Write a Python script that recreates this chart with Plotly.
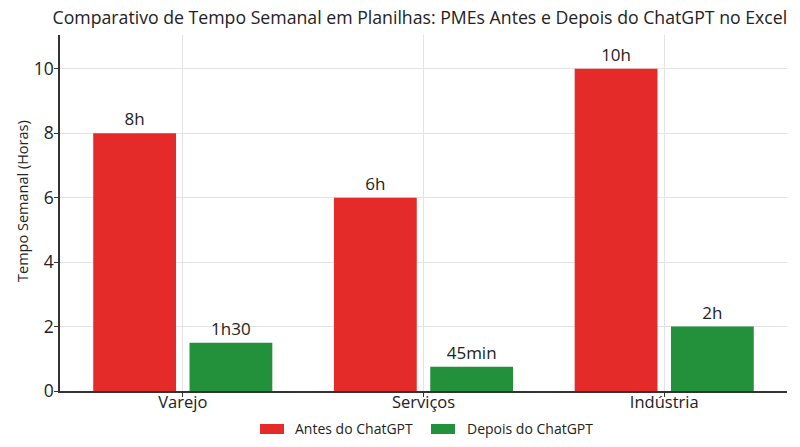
import plotly.graph_objects as go

categories = ["Varejo", "Serviços", "Indústria"]
antes = [8, 6, 10]
depois = [1.5, 0.75, 2]
antes_labels = ["8h", "6h", "10h"]
depois_labels = ["1h30", "45min", "2h"]
series_names = ["Antes do ChatGPT", "Depois do ChatGPT"]

RED = "#E52A2A"
GREEN = "#23903C"
FONT = "Open Sans"
TXT = "#222222"

fig = go.Figure()
for vals, labels, color, name in [(antes, antes_labels, RED, series_names[0]),
                                  (depois, depois_labels, GREEN, series_names[1])]:
    fig.add_trace(go.Bar(
        x=categories, y=vals, name=name, showlegend=False,
        marker=dict(color=color, line=dict(width=0)),
        text=labels, textposition="outside",
        textfont=dict(size=17, color=TXT), cliponaxis=False,
    ))

# custom legend (wide rectangular swatches) below the plot
legend_items = [(RED, series_names[0], 0.2751, 0.3205),
                (GREEN, series_names[1], 0.5103, 0.5571)]
shapes = []
annotations = []
for color, name, x0, tx in legend_items:
    shapes.append(dict(type="rect", xref="paper", yref="paper",
                       x0=x0, x1=x0 + 0.033, y0=-0.0927, y1=-0.1208,
                       fillcolor=color, line=dict(width=0)))
    annotations.append(dict(text=name, xref="paper", yref="paper",
                            x=tx, y=-0.1067, xanchor="left", yanchor="middle",
                            showarrow=False, font=dict(size=14, family=FONT, color=TXT)))
# y-axis title
annotations.append(dict(text="Tempo Semanal (Horas)", xref="paper", yref="paper",
                        x=-0.0523, y=0.5337, xanchor="center", yanchor="middle",
                        textangle=-90, showarrow=False,
                        font=dict(size=14.5, family=FONT, color=TXT)))

fig.update_layout(
    width=800, height=447,
    margin=dict(l=60, r=13, t=35, b=56, autoexpand=False),
    paper_bgcolor="white", plot_bgcolor="white",
    font=dict(family=FONT, color=TXT),
    title=dict(
        text="Comparativo de Tempo Semanal em Planilhas: PMEs Antes e Depois do ChatGPT no Excel",
        x=0.495, xref="paper", xanchor="center",
        y=0.96, yref="container", yanchor="middle",
        font=dict(size=17.7, family=FONT, color=TXT),
    ),
    barmode="group", bargap=0.2, bargroupgap=0.14,
    showlegend=False,
    shapes=shapes,
    annotations=annotations,
)
fig.update_xaxes(
    range=[-0.51, 2.51],
    showline=True, linecolor="#333333", linewidth=1.5,
    showgrid=True, gridcolor="#E3E3E3", gridwidth=1,
    ticks="outside", ticklen=4, tickcolor="#333333",
    tickfont=dict(size=16.5, family=FONT, color=TXT),
    ticklabelstandoff=-9,
    mirror=False,
)
fig.update_yaxes(
    range=[0, 11.05],
    tickvals=[0, 2, 4, 6, 8, 10],
    showline=True, linecolor="#333333", linewidth=1.5,
    showgrid=True, gridcolor="#E3E3E3", gridwidth=1,
    ticks="outside", ticklen=4, tickcolor="#333333",
    tickfont=dict(size=17.5, family=FONT, color=TXT),
    ticklabelstandoff=-3,
    zeroline=False,
)

fig.write_html("out.html")
